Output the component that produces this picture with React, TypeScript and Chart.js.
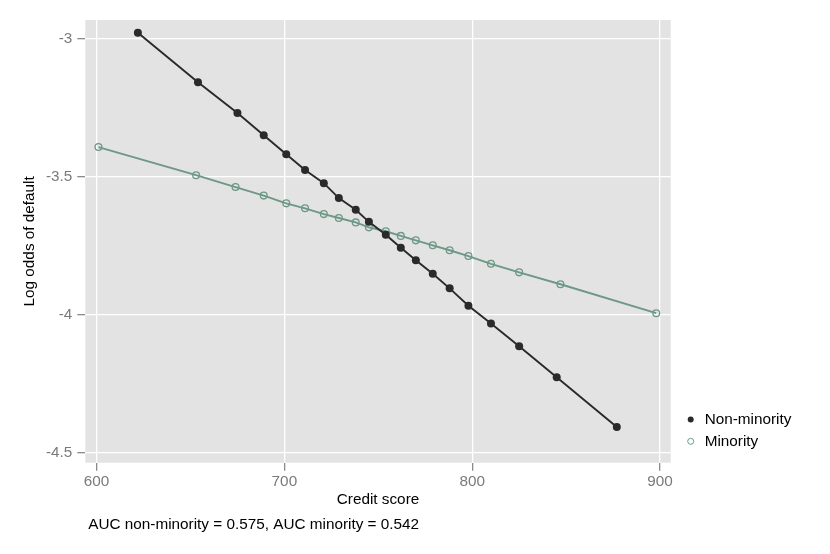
import { useEffect, useRef } from "react"
import { Chart, registerables } from "chart.js"

Chart.register(...registerables)

// Fitted log odds by credit score
const nonMinorityScores = [622, 654, 675, 689, 701, 711, 721, 729, 738, 745, 754, 762, 770, 779, 788, 798, 810, 825, 845, 877]
const nonMinorityLogOdds = [
  -2.98, -3.159, -3.271, -3.351, -3.42, -3.477, -3.525, -3.579, -3.621, -3.665,
  -3.712, -3.759, -3.804, -3.853, -3.906, -3.969, -4.033, -4.116, -4.228, -4.408,
]
const minorityScores = [601, 653, 674, 689, 701, 711, 721, 729, 738, 745, 754, 762, 770, 779, 788, 798, 810, 825, 847, 898]
const minorityLogOdds = [
  -3.394, -3.496, -3.539, -3.57, -3.598, -3.616, -3.637, -3.651, -3.667, -3.685,
  -3.699, -3.716, -3.732, -3.75, -3.768, -3.789, -3.817, -3.848, -3.891, -3.996,
]
const xTicks = [600, 700, 800, 900]
const yTicks = [-3, -3.5, -4, -4.5]
const seriesLabels = ["Non-minority", "Minority"]
const caption = "AUC non-minority = 0.575, AUC minority = 0.542"

const FONT = "'Liberation Sans', Arial, Helvetica, sans-serif"
const DARK = "#2a2a2a"
const GREEN = "#6d9886"

// grey panel, plus the legend and the AUC note drawn on the canvas
const panelPlugin = {
  id: "panel",
  beforeDraw(chart: Chart) {
    const { ctx, chartArea } = chart
    ctx.save()
    ctx.fillStyle = "#e3e3e3"
    ctx.fillRect(chartArea.left, chartArea.top, chartArea.right - chartArea.left, chartArea.bottom - chartArea.top)
    ctx.restore()
  },
  afterDraw(chart: Chart) {
    const { ctx, chartArea } = chart
    ctx.save()
    ctx.font = `15.3px ${FONT}`
    ctx.textBaseline = "middle"
    chart.data.datasets.forEach((ds: any, i: number) => {
      const y = chartArea.bottom - 43.2 + i * 21.8
      const x = chartArea.right + 20
      ctx.beginPath()
      ctx.arc(x, y, 3, 0, Math.PI * 2)
      if (ds.pointBackgroundColor === "transparent") {
        ctx.strokeStyle = ds.borderColor
        ctx.lineWidth = 1
        ctx.stroke()
      } else {
        ctx.fillStyle = ds.borderColor
        ctx.fill()
      }
      ctx.fillStyle = "#000"
      ctx.textAlign = "left"
      ctx.fillText(ds.label, x + 14, y)
    })
    ctx.fillText(caption, chartArea.left + 3, 524.5)
    ctx.restore()
  },
}

export default function App() {
  const chartRef = useRef<HTMLCanvasElement>(null)
  const chartInstance = useRef<Chart | null>(null)

  useEffect(() => {
    if (!chartRef.current) return
    if (chartInstance.current) chartInstance.current.destroy()
    const ctx = chartRef.current.getContext("2d")
    if (!ctx) return

    chartInstance.current = new Chart(ctx, {
      type: "line",
      data: {
        datasets: [
          {
            label: seriesLabels[0],
            data: nonMinorityScores.map((x, i) => ({ x, y: nonMinorityLogOdds[i] })),
            borderColor: DARK,
            backgroundColor: DARK,
            pointBackgroundColor: DARK,
            pointBorderColor: DARK,
            pointRadius: 4,
            pointBorderWidth: 0,
            borderWidth: 1.9,
            tension: 0,
          },
          {
            label: seriesLabels[1],
            data: minorityScores.map((x, i) => ({ x, y: minorityLogOdds[i] })),
            borderColor: GREEN,
            backgroundColor: GREEN,
            pointBackgroundColor: "transparent",
            pointBorderColor: GREEN,
            pointRadius: 3.4,
            pointBorderWidth: 1.3,
            borderWidth: 1.9,
            tension: 0,
          },
        ],
      },
      plugins: [panelPlugin],
      options: {
        animation: false,
        responsive: true,
        maintainAspectRatio: false,
        layout: { padding: { top: 20, right: 159.3, left: 0, bottom: 0 } },
        plugins: {
          legend: { display: false },
          tooltip: { enabled: false },
        },
        scales: {
          x: {
            type: "linear",
            min: 594,
            max: 905.7,
            afterBuildTicks: (scale: any) => {
              scale.ticks = xTicks.map((value) => ({ value }))
            },
            afterFit: (scale: any) => {
              scale.height = 91.3
            },
            border: { display: false },
            grid: { color: "#ffffff", lineWidth: 1.3, tickColor: "#8a8a8a", tickLength: 8, drawTicks: true },
            ticks: {
              color: "#7a7a7a",
              font: { family: FONT, size: 15.3 },
              padding: 2,
              maxRotation: 0,
              callback: (value: any) => String(value),
            },
            title: {
              display: true,
              text: "Credit score",
              color: "#000",
              font: { family: FONT, size: 15.3 },
              padding: { top: 0, bottom: 44.8 },
            },
          },
          y: {
            type: "linear",
            min: -4.5377,
            max: -2.9337,
            afterBuildTicks: (scale: any) => {
              scale.ticks = yTicks.map((value) => ({ value }))
            },
            afterFit: (scale: any) => {
              scale.width = 85.3
            },
            border: { display: false },
            grid: { color: "#ffffff", lineWidth: 1.3, tickColor: "#8a8a8a", tickLength: 8, drawTicks: true },
            ticks: {
              color: "#7a7a7a",
              font: { family: FONT, size: 15.3 },
              padding: 5,
              callback: (value: any) => String(value),
            },
            title: {
              display: true,
              text: "Log odds of default",
              color: "#000",
              font: { family: FONT, size: 15.3 },
              padding: { top: 21, bottom: 0 },
            },
          },
        },
      },
    })

    return () => {
      if (chartInstance.current) {
        chartInstance.current.destroy()
        chartInstance.current = null
      }
    }
  }, [])

  return (
    <div style={{ position: "absolute", left: 0, top: 0, width: 830, height: 554 }}>
      <canvas ref={chartRef} />
    </div>
  )
}
